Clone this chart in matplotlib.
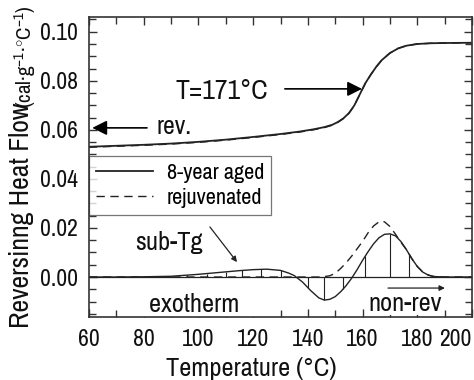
import matplotlib
matplotlib.use("Agg")
import matplotlib.pyplot as plt
import numpy as np
from matplotlib.ticker import MultipleLocator, FormatStrFormatter
from matplotlib import font_manager as fm

# pick a narrow face if one is installed, else Liberation Sans (Arial metrics)
_names = sorted({f.name for f in fm.fontManager.ttflist})
_narrow = [n for n in _names if 'Narrow' in n]
if _narrow:
    FAM = [_narrow[0], 'Liberation Sans', 'DejaVu Sans']
    K = 1.0
else:
    FAM = ['Liberation Sans', 'DejaVu Sans']
    K = 0.83
plt.rcParams['font.family'] = FAM
plt.rcParams['mathtext.fontset'] = 'custom'
plt.rcParams['mathtext.rm'] = FAM[0]
plt.rcParams['mathtext.it'] = FAM[0]
plt.rcParams['mathtext.bf'] = FAM[0]
plt.rcParams['mathtext.sf'] = FAM[0]

# Reversing heat flow (upper curves)
T_rev = [60, 70, 80, 90, 100, 110, 120, 130, 137, 142, 146, 149, 151, 153, 155, 157,
         159, 161, 163, 165, 167, 170, 173, 176, 180, 185, 190, 200]
rev_aged = [0.0531, 0.0535, 0.0539, 0.0544, 0.0551, 0.0560, 0.0571, 0.0583, 0.0593,
            0.0602, 0.0611, 0.0621, 0.0632, 0.0647, 0.0668, 0.0700, 0.0745, 0.0790,
            0.0825, 0.0857, 0.0884, 0.0913, 0.0932, 0.0943, 0.0950, 0.0953, 0.0954,
            0.0955]
rev_rejuv = [0.0529, 0.0533, 0.0537, 0.0542, 0.0549, 0.0558, 0.0569, 0.0581, 0.0591,
             0.0600, 0.0609, 0.0619, 0.0631, 0.0646, 0.0667, 0.0699, 0.0744, 0.0789,
             0.0825, 0.0857, 0.0884, 0.0913, 0.0932, 0.0943, 0.0950, 0.0953, 0.0954,
             0.0955]

# Non-reversing component (lower curves)
T_nr = [60, 70, 80, 90, 95, 100, 105, 110, 115, 120, 125, 130, 133, 135, 138, 141, 144,
        146, 148, 150, 152, 154, 156, 158, 160, 162, 164, 166, 168, 170, 172, 174, 176,
        178, 180, 182, 184, 186, 190, 200]
nr_aged = [0.0, 0.0, 0.0001, 0.0003, 0.0007, 0.0011, 0.0016, 0.0021, 0.0026, 0.0030,
           0.0032, 0.0027, 0.0016, 0.0006, -0.0020, -0.0055, -0.0085, -0.0094, -0.0091,
           -0.0080, -0.0060, -0.0035, -0.0005, 0.0030, 0.0068, 0.0103, 0.0135, 0.0160,
           0.0174, 0.0176, 0.0168, 0.0145, 0.0112, 0.0075, 0.0043, 0.0020, 0.0008,
           0.0002, 0.0, 0.0]
T_nr2 = [60, 80, 100, 120, 140, 145, 148, 150, 152, 154, 156, 158, 160, 162, 164, 166,
         167, 168, 170, 172, 174, 176, 178, 180, 182, 184, 186, 190, 200]
nr_rejuv = [0.0, 0.0, 0.0, 0.0, 0.0, 0.0, 0.0005, 0.0015, 0.0035, 0.0058, 0.0085, 0.0115,
            0.0145, 0.0180, 0.0208, 0.0225, 0.0228, 0.0225, 0.0206, 0.0175, 0.0142,
            0.0112, 0.0075, 0.0043, 0.0020, 0.0008, 0.0002, 0.0, 0.0]
hatch_T = [96, 103, 110, 116, 123, 130, 140, 146, 153, 161, 170, 177]

fig = plt.figure(figsize=(4.74, 3.80), dpi=100)
ax = fig.add_axes([89/474, 1-317/380, (472-89)/474, 300/380])

lc = '#222222'
ax.plot(T_rev, rev_aged, color=lc, lw=1.3, label='8-year aged', zorder=3)
ax.plot(T_rev, rev_rejuv, color=lc, lw=1.0, ls=(0, (6, 4)), label='rejuvenated', zorder=3)
ax.plot(T_nr, nr_aged, color=lc, lw=1.0, zorder=3)
ax.plot(T_nr2, nr_rejuv, color=lc, lw=1.0, ls=(0, (6, 4)), zorder=3)
ax.axhline(0, color=lc, lw=0.9, zorder=2)
hv = np.interp(hatch_T, T_nr, nr_aged)
ax.vlines(hatch_T, 0, hv, color=lc, lw=0.8, zorder=2)

ax.set_xlim(60, 200)
ax.set_ylim(-0.0163, 0.106)
ax.xaxis.set_major_locator(MultipleLocator(20))
ax.xaxis.set_minor_locator(MultipleLocator(10))
ax.yaxis.set_major_locator(MultipleLocator(0.02))
ax.yaxis.set_minor_locator(MultipleLocator(0.005))
ax.yaxis.set_major_formatter(FormatStrFormatter('%.2f'))
ax.tick_params(which='both', direction='in', top=True, right=True, color='#333333',
               width=1.0, labelsize=17*K, labelcolor='#111111')
ax.tick_params(which='major', length=6)
ax.tick_params(which='minor', length=5)
ax.tick_params(axis='x', pad=9)
ax.tick_params(axis='y', pad=8)
for s in ax.spines.values():
    s.set_color('#333333')
    s.set_linewidth(1.2)
    s.set_zorder(6)
fig.canvas.draw()
for lab in ax.get_xticklabels():
    if lab.get_text() == '200':
        lab.set_ha('right')

leg = ax.legend(loc='upper left', bbox_to_anchor=(0, 0.537), borderaxespad=0,
                fontsize=16*K, frameon=True, fancybox=False, handlelength=2.6,
                handletextpad=0.6, borderpad=0.3, labelspacing=0.25)
leg.get_frame().set_edgecolor('#555555')
leg.get_frame().set_linewidth(0.9)

arrow_big = dict(arrowstyle='-|>', color='black', lw=1.2, mutation_scale=22,
                 shrinkA=0, shrinkB=0)
arrow_small = dict(arrowstyle='-|>', color='#222222', lw=0.9, mutation_scale=8,
                   shrinkA=0, shrinkB=0)

ax.annotate('', xy=(61.2, 0.0608), xytext=(81.2, 0.0608), arrowprops=arrow_big)
ax.text(84.8, 0.0612, 'rev.', fontsize=18.5*K, ha='left', va='center', color='#111111')

ax.annotate('', xy=(159.8, 0.0767), xytext=(131.6, 0.0767), arrowprops=arrow_big)
ax.text(108.6, 0.0755, 'T=171°C', fontsize=20*K, ha='center', va='center', color='#111111')

ax.annotate('', xy=(114.1, 0.0061), xytext=(104.2, 0.0204), arrowprops=arrow_small)
ax.text(89.2, 0.0139, 'sub-Tg', fontsize=19*K, ha='center', va='center', color='#111111')

ax.annotate('', xy=(190.1, -0.0045), xytext=(169.3, -0.0045), arrowprops=arrow_small)
ax.text(175.5, -0.0106, 'non-rev', fontsize=19*K, ha='center', va='center', color='#111111',
        zorder=4, bbox=dict(facecolor='white', edgecolor='none', pad=0.5))

ax.text(98.4, -0.0114, '   exotherm   ', fontsize=19*K, ha='center', va='center',
        color='#111111', zorder=4,
        bbox=dict(facecolor='white', edgecolor='none', pad=0.5))

fig.text(251/474, 1-368/380, 'Temperature (°C)', fontsize=19*K, ha='center', va='center',
         color='#111111')
fig.text(22/474, 1-215/380, 'Reversinng Heat Flow', fontsize=20*K, rotation=90,
         ha='center', va='center', color='#111111')
fig.text(25/474, 1-57/380, r'(cal·g$^{-1}$·$^{\circ}$C$^{-1}$)', fontsize=15*K,
         rotation=90, ha='center', va='center', color='#111111')

fig.savefig('out.png', dpi=100)
